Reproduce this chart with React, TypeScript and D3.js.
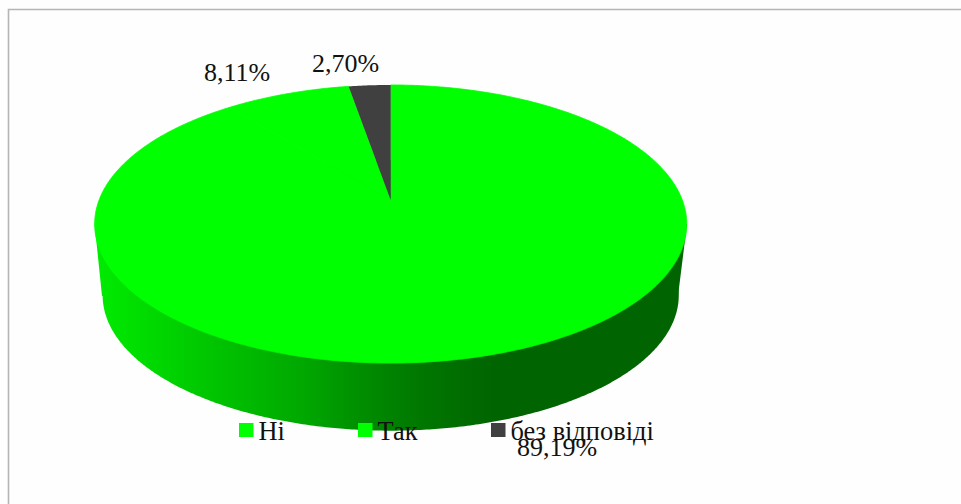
import React from "react";
import * as d3 from "d3";

const categories = ["Ні", "Так", "без відповіді"];
const values = [89.19, 8.11, 2.7];
const colors = ["#00ff00", "#00ff00", "#404040"];
const sideStops: [number, string][] = [
  [0, "#00ec00"],
  [0.18, "#00c800"],
  [0.35, "#00a800"],
  [0.49, "#008400"],
  [0.56, "#007600"],
  [0.68, "#006400"],
  [1, "#006400"],
];

const W = 961;
const H = 504;
const CX = 390.7;
const CY = 200;
const A = 134.9;
const B = 291.6;
const P = -0.1727;
const BASE_SCALE = 0.973;
const BASE_DY = 72;

const fmt = (v: number) => v.toFixed(2).replace(".", ",") + "%";

function project(theta: number, s = 1, dy = 0): [number, number] {
  const u = Math.sin(theta);
  const v = -Math.cos(theta);
  const d = 1 + P * v;
  return [CX + (s * B * u) / d, CY + dy + (s * A * v) / d];
}

const line = d3.line();
function sector(a0: number, a1: number) {
  const pts: [number, number][] = [[CX, CY]];
  const n = Math.max(2, Math.ceil((a1 - a0) / 0.01));
  d3.range(n + 1).forEach((i) => pts.push(project(a0 + ((a1 - a0) * i) / n)));
  return line(pts) + "Z";
}
function ring(s: number, dy: number) {
  const full = d3.range(721).map((i) => project((i / 720) * 2 * Math.PI, s, dy));
  return line(full) + "Z";
}

const labelPos = [
  { x: 517, y: 456 },
  { x: 204, y: 81 },
  { x: 312, y: 72 },
];
const legendX = [239, 358, 491];

export default function App() {
  const arcs = d3.pie<number>().sort(null)(values);
  const sideQuad = line([
    [94.6, 224],
    [102, 296],
    [678, 296],
    [687, 224],
  ]) + "Z";
  const serif = "'Liberation Serif', serif";
  return (
    <svg
      width={W}
      height={H}
      viewBox={`0 0 ${W} ${H}`}
      style={{ position: "fixed", left: 0, top: 0, background: "#fefefe" }}
    >
      <defs>
        <linearGradient id="side" gradientUnits="userSpaceOnUse" x1={95} x2={687} y1={0} y2={0}>
          {sideStops.map(([o, c]) => (
            <stop key={o} offset={o} stopColor={c} />
          ))}
        </linearGradient>
      </defs>
      <path d={`M8.5 504V9.5H961`} fill="none" stroke="#b5b5b5" strokeWidth={1.6} />
      <path d={ring(BASE_SCALE, BASE_DY)} fill="url(#side)" />
      <path d={sideQuad} fill="url(#side)" />
      {arcs.map((a, i) => (
        <path
          key={i}
          d={sector(a.startAngle, a.endAngle)}
          fill={colors[i]}
          stroke={i < 2 ? colors[i] : "none"}
          strokeWidth={0.8}
        />
      ))}
      {values.map((v, i) => (
        <text key={i} x={labelPos[i].x} y={labelPos[i].y} fontFamily={serif} fontSize={26} fill="#111">
          {fmt(v)}
        </text>
      ))}
      {categories.map((c, i) => (
        <g key={c}>
          <rect x={legendX[i]} y={423} width={14.5} height={14} fill={colors[i]} />
          <text x={legendX[i] + 19.5} y={440} fontFamily={serif} fontSize={26.4} fill="#111">
            {c}
          </text>
        </g>
      ))}
    </svg>
  );
}
